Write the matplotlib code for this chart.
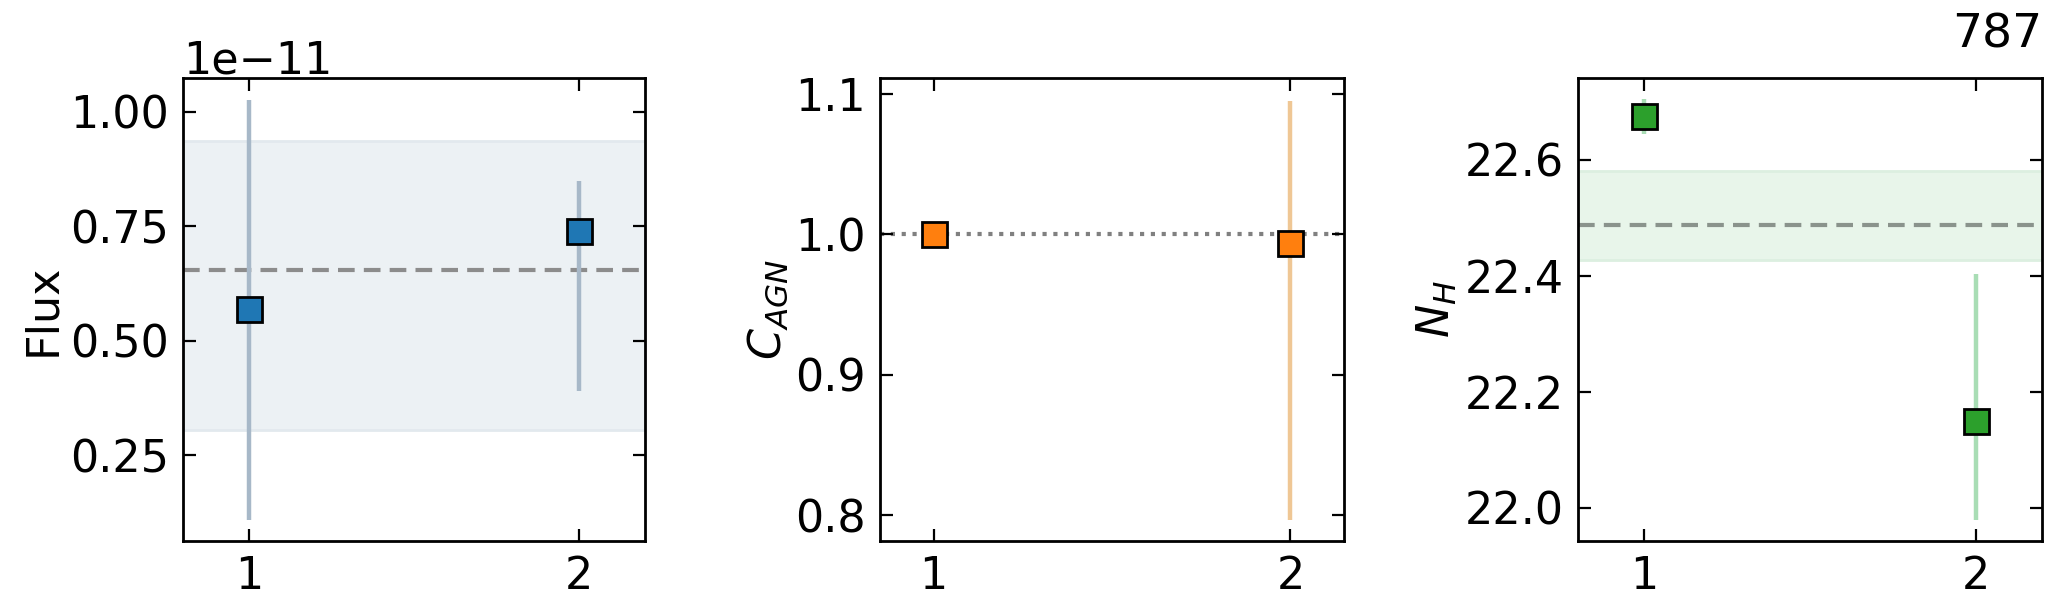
"""
Three-panel parameter comparison (Flux, C_AGN, N_H) for source 787.
"""

import numpy as np
import matplotlib
matplotlib.use("Agg")
import matplotlib.pyplot as plt

plt.rcParams["font.family"] = ["DejaVu Sans"]
plt.rcParams["font.size"] = 32
plt.rcParams["mathtext.fontset"] = "dejavusans"

# x positions (model index)
runs = [1, 2]

# Flux (erg/s/cm^2)
flux = [0.5685e-11, 0.7397e-11]
flux_lo = [0.4598e-11, 0.3493e-11]
flux_hi = [0.4563e-11, 0.1083e-11]
flux_mean = 0.655e-11
flux_band = [0.3065e-11, 0.9366e-11]

# C_AGN
cagn = [1.0, 0.9936]
cagn_lo = [0.0, 0.1970]
cagn_hi = [0.0, 0.1013]
cagn_ref = 1.0

# N_H (log)
nh = [22.675, 22.150]
nh_lo = [0.03, 0.172]
nh_hi = [0.029, 0.253]
nh_mean = 22.4877
nh_band = [22.4276, 22.5797]

source_id = "787"

W, H = 2062, 614
fig = plt.figure(figsize=(W / 100, H / 100), dpi=100)
ax1 = fig.add_axes([183 / W, 73 / H, 462 / W, 463 / H])
ax2 = fig.add_axes([880 / W, 73 / H, 464 / W, 463 / H])
ax3 = fig.add_axes([1578 / W, 73 / H, 464 / W, 463 / H])

mk = dict(fmt="s", ms=18, mec="black", mew=2, elinewidth=3.2, capsize=0, zorder=3)

# 面板1：Flux
ax1.axhspan(flux_band[0], flux_band[1], facecolor="#ECF1F4", edgecolor="#E2E9EE", lw=2, zorder=0)
ax1.axhline(flux_mean, color="#8C8C8C", ls="--", lw=3, dashes=(4, 2.2), zorder=1)
ax1.errorbar(runs, flux, yerr=[flux_lo, flux_hi], mfc="#1F77B4", ecolor="#A7B8C8", **mk)
ax1.set_xlim(0.8, 2.2)
ax1.set_ylim(0.0634e-11, 1.0736e-11)
ax1.set_yticks([0.25e-11, 0.5e-11, 0.75e-11, 1.0e-11])
ax1.set_ylabel("Flux")

# 面板2：C_AGN
ax2.axhline(cagn_ref, color="#808080", ls=":", lw=3, dashes=(1, 1.6), zorder=1)
ax2.errorbar(runs, cagn, yerr=[cagn_lo, cagn_hi], mfc="#FF7F0E", ecolor="#EFC795", **mk)
ax2.set_xlim(0.85, 2.15)
ax2.set_ylim(0.7818, 1.1112)
ax2.set_yticks([0.8, 0.9, 1.0, 1.1])
ax2.set_ylabel("$C_{AGN}$")

# 面板3：N_H
ax3.axhspan(nh_band[0], nh_band[1], facecolor="#E8F5EA", edgecolor="#DCEFE0", lw=2, zorder=0)
ax3.axhline(nh_mean, color="#8A938C", ls="--", lw=3, dashes=(4, 2.2), zorder=1)
ax3.errorbar(runs, nh, yerr=[nh_lo, nh_hi], mfc="#2CA02C", ecolor="#A9DDB5", **mk)
ax3.set_xlim(0.8, 2.2)
ax3.set_ylim(21.9425, 22.7407)
ax3.set_yticks([22.0, 22.2, 22.4, 22.6])
ax3.set_ylabel("$N_H$")
ax3.set_title(source_id, loc="right", fontsize=34, pad=22)

for ax in (ax1, ax2, ax3):
    ax.set_xticks(runs)
    ax.tick_params(direction="in", top=True, right=True, length=9, width=1.6, pad=10)
    for s in ax.spines.values():
        s.set_linewidth(2)

fig.savefig("out.png", dpi=100)
